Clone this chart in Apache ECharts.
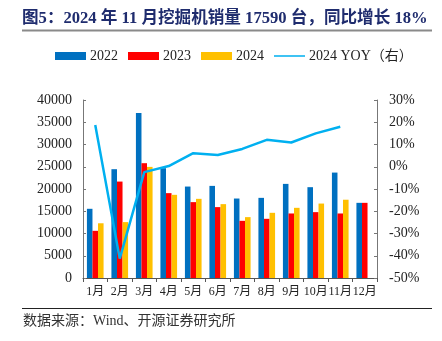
<!DOCTYPE html>
<html>
<head>
<meta charset="utf-8">
<script src="https://cdn.jsdelivr.net/npm/echarts@6/dist/echarts.min.js"></script>
<style>
  html, body { margin: 0; padding: 0; background: #fff; }
  #chart { width: 442px; height: 341px; }
</style>
</head>
<body>
<div id="chart"></div>
<script>
// Monthly excavator sales (units) and 2024 year-on-year growth (%)
const months = ['1月', '2月', '3月', '4月', '5月', '6月', '7月', '8月', '9月', '10月', '11月', '12月'];
const sales2022 = [15550, 24450, 37080, 24680, 20550, 20700, 17860, 18010, 21150, 20410, 23690, 16890];
const sales2023 = [10600, 21670, 25800, 19070, 17050, 15930, 12850, 13300, 14500, 14800, 14500, 16890];
const sales2024 = [12300, 12560, 24970, 18690, 17790, 16600, 13680, 14650, 15770, 16730, 17590, null];
const yoy2024 = [18.8, -41.3, -2.4, 0.3, 6.1, 5.3, 8.0, 12.1, 10.9, 15.0, 18.0, null];

const serif = '"Liberation Serif", "Times New Roman", "Noto Sans CJK SC", serif';
const navy = '#1F2C6E';

// thin horizontal stroke for the line series legend entry; the two dots keep the box height
const lineIcon = 'path://M0,0L0.01,0L0.01,0.01L0,0.01Z M0,3.2L31,3.2L31,4.8L0,4.8Z M0,7.99L0.01,7.99L0.01,8L0,8Z';

const chart = echarts.init(document.getElementById('chart'), null, { renderer: 'canvas' });

chart.setOption({
  backgroundColor: '#ffffff',
  animation: false,
  graphic: [
    {
      type: 'text', left: 22, top: 10,
      style: {
        text: '图5：2024 年 11 月挖掘机销量 17590 台，同比增长 18%',
        font: 'bold 16.6px ' + serif, fill: navy
      }
    },
    {
      type: 'line', shape: { x1: 22, y1: 30.5, x2: 432, y2: 30.5 },
      style: { stroke: '#8a8a8a', lineWidth: 2 }
    },
    {
      type: 'line', shape: { x1: 22, y1: 308.5, x2: 432, y2: 308.5 },
      style: { stroke: '#222', lineWidth: 1 }
    },
    {
      type: 'text', left: 23, top: 314,
      style: {
        text: '数据来源：Wind、开源证券研究所',
        font: '14px ' + serif, fill: '#333'
      }
    }
  ],
  legend: {
    top: 49, left: 55, padding: 0,
    itemWidth: 31, itemHeight: 8, itemGap: 10,
    textStyle: { fontFamily: serif, fontSize: 14, color: '#222', padding: [0, 0, 0, -1] },
    data: [
      { name: '2022', icon: 'rect' },
      { name: '2023', icon: 'rect' },
      { name: '2024', icon: 'rect' },
      { name: '2024 YOY（右）', icon: lineIcon, itemStyle: { color: '#00B0F0' } }
    ]
  },
  grid: { left: 83, right: 65, top: 100, bottom: 63, containLabel: false },
  xAxis: {
    type: 'category',
    data: months,
    axisLine: { lineStyle: { color: '#555', width: 1 } },
    axisTick: { show: true, alignWithLabel: false, length: 4, lineStyle: { color: '#555' } },
    axisLabel: { fontFamily: serif, fontSize: 12, color: '#222', margin: 8, interval: 0 }
  },
  yAxis: [
    {
      type: 'value', min: 0, max: 40000, interval: 5000,
      splitLine: { show: false },
      axisLine: { show: true, lineStyle: { color: '#777' } },
      axisTick: { show: true, inside: true, length: 3, lineStyle: { color: '#777' } },
      axisLabel: { fontFamily: serif, fontSize: 14, color: '#222', margin: 11, formatter: (v) => String(v) }
    },
    {
      type: 'value', min: -50, max: 30, interval: 10,
      splitLine: { show: false },
      axisLine: { show: true, lineStyle: { color: '#777' } },
      axisTick: { show: true, inside: true, length: 3, lineStyle: { color: '#777' } },
      axisLabel: { fontFamily: serif, fontSize: 14, color: '#222', margin: 12, formatter: '{value}%' }
    }
  ],
  series: [
    {
      name: '2022', type: 'bar', data: sales2022, yAxisIndex: 0,
      barGap: '0%', barCategoryGap: '32%',
      itemStyle: { color: '#0070C0' }
    },
    {
      name: '2023', type: 'bar', data: sales2023, yAxisIndex: 0,
      barGap: '0%', barCategoryGap: '32%',
      itemStyle: { color: '#FF0000' }
    },
    {
      name: '2024', type: 'bar', data: sales2024, yAxisIndex: 0,
      barGap: '0%', barCategoryGap: '32%',
      itemStyle: { color: '#FFC000' }
    },
    {
      name: '2024 YOY（右）', type: 'line', data: yoy2024, yAxisIndex: 1,
      symbol: 'none', smooth: false, z: 5,
      lineStyle: { color: '#00B0F0', width: 2.5 },
      itemStyle: { color: '#00B0F0' }
    }
  ]
});
</script>
</body>
</html>
